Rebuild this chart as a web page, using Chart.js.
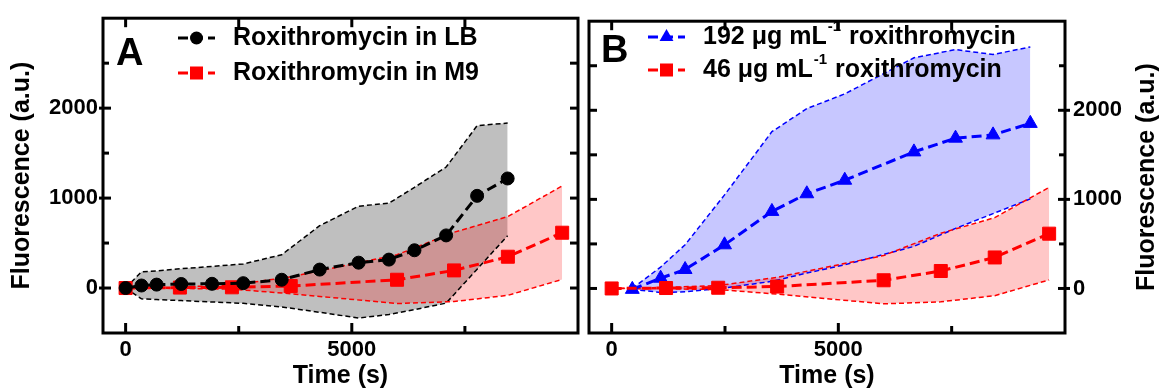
<!DOCTYPE html>
<html><head><meta charset="utf-8">
<script src="https://cdn.jsdelivr.net/npm/chart.js@4/dist/chart.umd.min.js"></script>
<style>
html,body{margin:0;padding:0;background:#fff;}
#wrap{position:relative;width:1161px;height:389px;overflow:hidden;}
.p{position:absolute;top:0;height:389px;}
#pa{left:0;width:580px;}
#pb{left:585px;width:576px;}
</style></head><body>
<div id="wrap"><div class="p" id="pa"><canvas id="ca" width="580" height="389"></canvas></div><div class="p" id="pb"><canvas id="cb" width="576" height="389"></canvas></div></div>
<script>
// ---- data ----
const xTicks = [0, 2500, 5000, 7500];
const xLabelled = [0, 5000];
const yTicks = [0, 500, 1000, 1500, 2000, 2500];
const yLabelled = [0, 1000, 2000];

// Panel A: roxithromycin in LB
const tLB  = [0, 350, 685, 1230, 1910, 2600, 3450, 4290, 5150, 5820, 6385, 7085, 7770, 8445];
const mLB  = [0, 28, 38, 45, 47, 54, 92, 205, 282, 316, 420, 585, 1025, 1218];
const upLB = [0, 180, 190, 215, 240, 268, 370, 693, 910, 943, 1120, 1345, 1805, 1834];
const loLB = [0, -120, -128, -140, -155, -170, -210, -270, -333, -295, -240, -168, 210, 582];

// Red series (M9 / 46 ug/mL)
const tR  = [0, 1200, 2350, 3650, 6000, 7260, 8450, 9650];
const mR  = [0, 5, 8, 22, 92, 196, 348, 615];
const upR = [0, 12, 32, 125, 370, 620, 795, 1135];
const loR = [0, -5, -12, -63, -173, -150, -81, 96];

// Blue series (192 ug/mL)
const tB  = [455, 1080, 1620, 2490, 3535, 4305, 5142, 6668, 7585, 8413, 9235];
const mB  = [-10, 115, 213, 490, 865, 1063, 1215, 1533, 1687, 1724, 1853];
const upB = [0, 240, 490, 1050, 1760, 2019, 2184, 2589, 2681, 2626, 2711];
const loB = [-10, -44, -38, 5, 80, 173, 265, 472, 674, 840, 1006];

const labelsA = ['Roxithromycin in LB', 'Roxithromycin in M9'];
const labelsB = ['192 μg mL-1 roxithromycin', '46 μg mL-1 roxithromycin'];
const yTitle = 'Fluorescence (a.u.)';
const xTitle = 'Time (s)';

// ---- helpers ----
const FONT = '"Liberation Sans", Arial, Helvetica, sans-serif';
const pts = (xs, ys) => xs.map((x, i) => ({x, y: ys[i]}));

function meanDs(label, xs, ys, color, style, radius, order) {
  return { label, data: pts(xs, ys), borderColor: color, backgroundColor: color,
    pointBackgroundColor: color, pointBorderColor: color, borderWidth: 3, borderDash: [10, 5],
    pointStyle: style, pointRadius: radius, pointBorderWidth: 1, fill: false, order, tension: 0 };
}
function bandDs(xs, ys, color, fillColor, order, fill) {
  return { label: '', data: pts(xs, ys), borderColor: color, backgroundColor: fillColor,
    borderWidth: 1.5, borderDash: [5, 3], pointRadius: 0, fill: fill, order, tension: 0 };
}

function xScale() {
  return { type: 'linear', min: -500, max: 10000,
    afterBuildTicks: s => { s.ticks = xTicks.map(v => ({value: v})); },
    afterFit: s => { s.height = 56; },
    grid: {display: false, drawTicks: false}, border: {display: false},
    ticks: { autoSkip: false, maxRotation: 0, minRotation: 0, padding: 4, color: '#000',
      font: {family: FONT, size: 22, weight: 'bold'},
      callback: v => xLabelled.includes(v) ? String(v) : '' } };
}
function yScale(pos, width, pad) {
  return { type: 'linear', position: pos, min: -500, max: 3000,
    afterBuildTicks: s => { s.ticks = yTicks.map(v => ({value: v})); },
    afterFit: s => { s.width = width; },
    grid: {display: false, drawTicks: false}, border: {display: false},
    ticks: { autoSkip: false, padding: pad, color: '#000',
      font: {family: FONT, size: 22, weight: 'bold'},
      callback: v => yLabelled.includes(v) ? String(v) : '' } };
}

function drawMarker(ctx, style, r, x, y) {
  ctx.beginPath();
  if (style === 'circle') ctx.arc(x, y, r, 0, Math.PI * 2);
  else if (style === 'rect') { const s = Math.SQRT1_2 * r; ctx.rect(x - s, y - s, 2 * s, 2 * s); }
  else if (style === 'triangle') {
    for (let k = 0; k < 3; k++) {
      const a = k * 2 * Math.PI / 3;
      const px = x + Math.sin(a) * r, py = y - Math.cos(a) * r;
      k ? ctx.lineTo(px, py) : ctx.moveTo(px, py);
    }
    ctx.closePath();
  }
  ctx.fill();
}

const framePlugin = {
  id: 'frame',
  afterDraw(chart, args, o) {
    const ctx = chart.ctx, a = chart.chartArea, x = chart.scales.x, y = chart.scales.y;
    ctx.save();
    ctx.strokeStyle = '#000'; ctx.lineWidth = 3; ctx.setLineDash([]);
    ctx.strokeRect(a.left, a.top, a.right - a.left, a.bottom - a.top);
    const seg = (x1, y1, x2, y2) => { ctx.beginPath(); ctx.moveTo(x1, y1); ctx.lineTo(x2, y2); ctx.stroke(); };
    x.ticks.forEach(t => {
      const px = x.getPixelForValue(t.value);
      const major = xLabelled.includes(t.value);
      seg(px, a.bottom, px, a.bottom - (major ? 10 : 7));
      seg(px, a.top, px, a.top + 9);
    });
    y.ticks.forEach(t => {
      const py = y.getPixelForValue(t.value);
      const major = yLabelled.includes(t.value);
      if (o.side === 'left') {
        seg(a.left - (major ? 4 : 0), py, a.left + (major ? 8 : 6), py);
        seg(a.right, py, a.right - 8, py);
      } else {
        seg(a.right + (major ? 5 : 0), py, a.right - (major ? 7 : 6), py);
        seg(a.left, py, a.left + 8, py);
      }
    });
    // panel letter
    ctx.fillStyle = '#000';
    ctx.font = 'bold 38px ' + FONT; ctx.textAlign = 'left'; ctx.textBaseline = 'alphabetic';
    ctx.fillText(o.letter, o.letterX, o.letterY);
    // axis titles
    ctx.font = 'bold 25px ' + FONT; ctx.textAlign = 'center';
    ctx.fillText(xTitle, (a.left + a.right) / 2, 383);
    ctx.save();
    ctx.translate(o.yTitleX, (a.top + a.bottom) / 2);
    ctx.rotate(-Math.PI / 2);
    ctx.textBaseline = 'middle';
    ctx.fillText(yTitle, 0, 0);
    ctx.restore();
    // legend
    o.legend.forEach((di, k) => {
      const ds = chart.data.datasets[di];
      const ry = o.rows[k];
      ctx.strokeStyle = ds.borderColor; ctx.fillStyle = ds.borderColor;
      ctx.lineWidth = 3; ctx.setLineDash(ds.borderDash);
      seg(o.x0, ry, o.x1, ry);
      ctx.setLineDash([]);
      drawMarker(ctx, ds.pointStyle, ds.pointRadius, (o.x0 + o.x1) / 2, ry);
      ctx.fillStyle = '#000'; ctx.textAlign = 'left'; ctx.textBaseline = 'middle';
      const label = ds.label;
      const idx = label.indexOf('mL-1');
      ctx.font = 'bold 25px ' + FONT;
      if (idx < 0) { ctx.fillText(label, o.textX, ry); }
      else {
        const p1 = label.slice(0, idx + 2), p3 = label.slice(idx + 4);
        let tx = o.textX;
        ctx.fillText(p1, tx, ry); tx += ctx.measureText(p1).width;
        ctx.font = 'bold 15px ' + FONT;
        ctx.fillText('-1', tx + 1, ry - 10); tx += ctx.measureText('-1').width + 2;
        ctx.font = 'bold 25px ' + FONT;
        ctx.fillText(p3, tx, ry);
      }
    });
    ctx.restore();
  }
};

const common = (pluginOpts, yPos, yWidth, yPad, padding) => ({
  responsive: false, animation: false, events: [],
  layout: {padding, autoPadding: false},
  scales: {x: xScale(), y: yScale(yPos, yWidth, yPad)},
  plugins: {legend: {display: false}, tooltip: {enabled: false},
    filler: {drawTime: 'beforeDatasetsDraw', propagate: false}, frame: pluginOpts}
});

new Chart(document.getElementById('ca'), {
  type: 'line',
  data: {datasets: [
    meanDs(labelsA[0], tLB, mLB, '#000000', 'circle', 6.5, 0),
    meanDs(labelsA[1], tR, mR, '#ff0000', 'rect', 9.2, 1),
    bandDs(tR, upR, '#ff0000', 'rgba(255,0,0,0.22)', 2, '+1'),
    bandDs(tR, loR, '#ff0000', 'rgba(255,0,0,0.22)', 3, false),
    bandDs(tLB, upLB, '#000000', 'rgba(0,0,0,0.25)', 4, '+1'),
    bandDs(tLB, loLB, '#000000', 'rgba(0,0,0,0.25)', 5, false)
  ]},
  options: common({side: 'left', letter: 'A', letterX: 116, letterY: 65, yTitleX: 22,
    legend: [0, 1], rows: [38, 73], x0: 178, x1: 215, textX: 233}, 'left', 103, 5,
    {left: 0, right: 2, top: 14, bottom: 0}),
  plugins: [framePlugin]
});

new Chart(document.getElementById('cb'), {
  type: 'line',
  data: {datasets: [
    meanDs(labelsB[1], tR, mR, '#ff0000', 'rect', 9.2, 0),
    meanDs(labelsB[0], tB, mB, '#0000ff', 'triangle', 8, 1),
    bandDs(tR, upR, '#ff0000', 'rgba(255,0,0,0.22)', 2, '+1'),
    bandDs(tR, loR, '#ff0000', 'rgba(255,0,0,0.22)', 3, false),
    bandDs(tB, upB, '#0000ff', 'rgba(0,0,255,0.22)', 4, '+1'),
    bandDs(tB, loB, '#0000ff', 'rgba(0,0,255,0.22)', 5, false)
  ]},
  options: common({side: 'right', letter: 'B', letterX: 16, letterY: 62, yTitleX: 562,
    legend: [1, 0], rows: [37, 70], x0: 63, x1: 100, textX: 118}, 'right', 96, 8,
    {left: 4, right: 0, top: 14, bottom: 0}),
  plugins: [framePlugin]
});
</script></body></html>
